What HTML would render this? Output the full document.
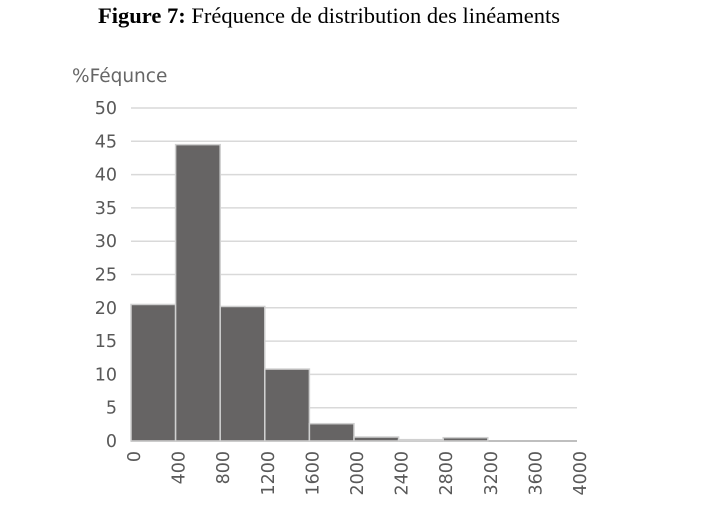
<!DOCTYPE html>
<html><head><meta charset="utf-8"><style>
body{margin:0;background:#fff;width:725px;height:517px;overflow:hidden}
svg{display:block}
</style></head><body>
<svg width="725" height="517">
<text x="329" y="23" text-anchor="middle" font-family="Liberation Serif, serif" font-size="22.5" fill="#000"><tspan font-weight="bold">Figure 7:</tspan> Fréquence de distribution des linéaments</text>
<text x="72" y="82" font-family="DejaVu Sans, Liberation Sans, sans-serif" font-size="18.5" fill="#666">%Féqunce</text>
<g id="grid"></g><g id="bars"></g><g id="xlabels"></g>
</svg>
<script>
const binStarts=[0,400,800,1200,1600,2000,2400,2800,3200,3600];
const freqs=[20.5,44.5,20.2,10.8,2.6,0.6,0.2,0.5,0,0];
const yTicks=[0,5,10,15,20,25,30,35,40,45,50];
const xTicks=[0,400,800,1200,1600,2000,2400,2800,3200,3600,4000];
const NS='http://www.w3.org/2000/svg';
const x=v=>131+v*(577-131)/4000;
const y=v=>441-v*(441-108)/50;
const g=document.getElementById('grid'),b=document.getElementById('bars'),xl=document.getElementById('xlabels');
function mk(tag,at,par){const e=document.createElementNS(NS,tag);for(const k in at)e.setAttribute(k,at[k]);par.appendChild(e);return e;}
yTicks.forEach(t=>{
 const l=mk('line',{x1:131,x2:577,y1:y(t),y2:y(t),stroke:t===0?'#bfbfbf':'#d9d9d9','stroke-width':t===0?2:1.5},g);
 
 
 const tx=mk('text',{x:117,y:y(t)+6,'text-anchor':'end','font-family':'DejaVu Sans, Liberation Sans, sans-serif','font-size':17.5,fill:'#595959'},g);
 tx.textContent=t;
 
 
});
freqs.forEach((f,i)=>{
 if(f<=0)return;
 const x0=x(binStarts[i]),x1=x(binStarts[i]+400);
 const r=mk('rect',{x:x0,y:y(f),width:x1-x0,height:y(0)-y(f),fill:'#666464',stroke:'#d0d0d0','stroke-width':1.5},b);
 
 
});
xTicks.forEach(t=>{
 const cx=x(t)+9,cy=451;
 const tx=mk('text',{x:cx,y:cy,'text-anchor':'end',transform:`rotate(-90 ${cx} ${cy})`,'font-family':'DejaVu Sans, Liberation Sans, sans-serif','font-size':17.5,fill:'#595959'},xl);
 tx.textContent=t;
 
 
});
</script>
</body></html>
